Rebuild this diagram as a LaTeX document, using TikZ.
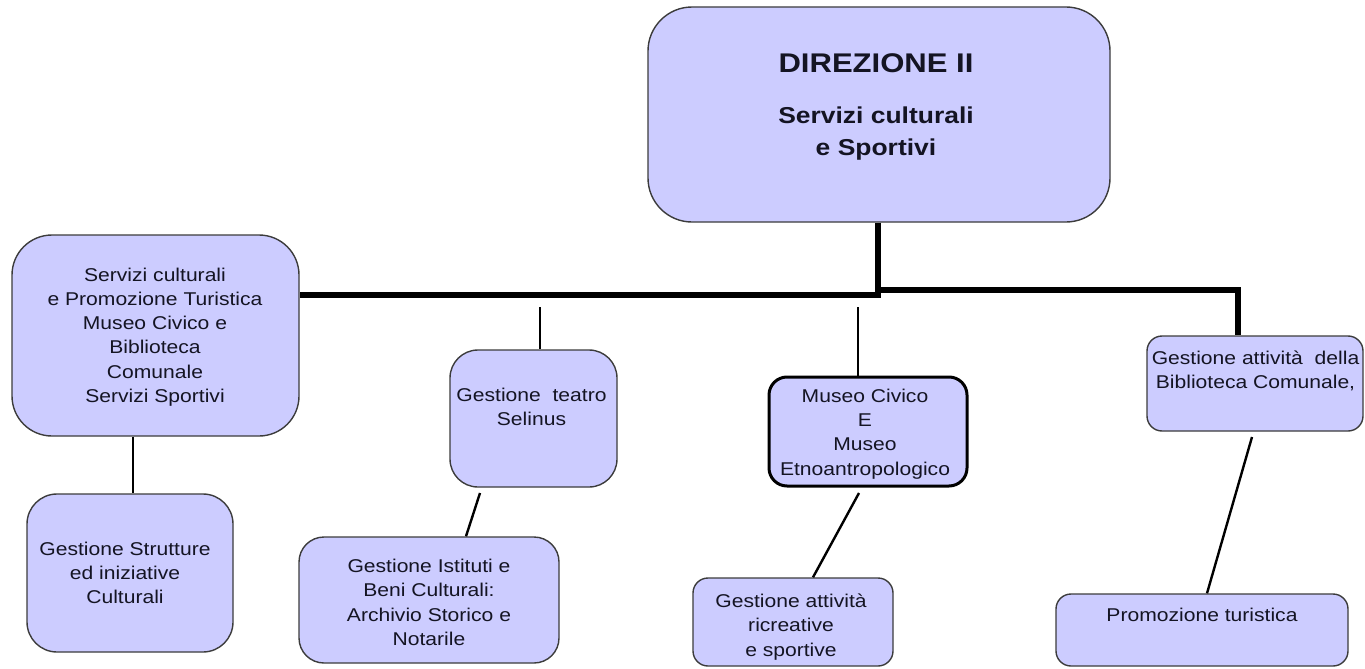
\documentclass[tikz,border=0pt]{standalone}
\usepackage{fontspec}
\setmainfont{Liberation Sans}
\newfontfamily\smallf[FakeStretch=1.14]{Liberation Sans}
\newfontfamily\bigf[FakeStretch=1.15]{Liberation Sans}
\definecolor{boxfill}{RGB}{204,204,255}
\definecolor{boxline}{RGB}{60,60,60}
\definecolor{txt}{RGB}{20,20,35}
\tikzset{
  orgbox/.style={draw=boxline, line width=1.4pt, fill=boxfill, rectangle, inner sep=0pt},
  lbl/.style={align=center, inner sep=0pt, text=txt, font=\smallf\fontsize{18.5}{24.3}\selectfont},
  thickc/.style={line width=6pt, line join=miter, black},
  thinc/.style={line width=2.4pt, black}
}
\begin{document}
\begin{tikzpicture}[x=1pt,y=-1pt]
\useasboundingbox (0,0) rectangle (1365,669);
% boxes
\node[orgbox, rounded corners=44pt, minimum width=462pt, minimum height=215pt] (top) at (879,114.5) {};
\node[orgbox, rounded corners=40pt, minimum width=287pt, minimum height=201pt] (L1) at (155.5,335.5) {};
\node[orgbox, rounded corners=30pt, minimum width=206pt, minimum height=158pt] (L1c) at (130,573) {};
\node[orgbox, rounded corners=28pt, minimum width=167pt, minimum height=137pt] (T) at (533.5,418.5) {};
\node[orgbox, rounded corners=25pt, minimum width=260pt, minimum height=126pt] (Tc) at (429,600) {};
\node[orgbox, draw=black, line width=3pt, rounded corners=18pt, minimum width=198pt, minimum height=109pt] (M) at (868,431.5) {};
\node[orgbox, rounded corners=15pt, minimum width=200pt, minimum height=88pt] (Mc) at (793,622) {};
\node[orgbox, rounded corners=15pt, minimum width=216pt, minimum height=95pt] (B) at (1255,383.5) {};
\node[orgbox, rounded corners=15pt, minimum width=292pt, minimum height=72pt] (Bc) at (1202,630) {};
% texts
\node[inner sep=0pt, text=txt, font=\bigf\bfseries\fontsize{27}{30}\selectfont] (tTitle) at (876,63) {DIREZIONE II};
\node[align=center, inner sep=0pt, text=txt, font=\bigf\bfseries\fontsize{23}{32}\selectfont] (tSub) at (876,134) {Servizi culturali\\e Sportivi};
\node[lbl] (tL1) at (155,337) {Servizi culturali\\e Promozione Turistica\\Museo Civico e\\Biblioteca\\Comunale\\Servizi Sportivi};
\node[lbl] (tL1c) at (125,573) {Gestione Strutture\\ed iniziative\\Culturali};
\node[lbl] (tT) at (531.5,407) {Gestione\ \ teatro\\Selinus};
\node[lbl] (tTc) at (429,602.5) {Gestione Istituti e\\Beni Culturali:\\Archivio Storico e\\Notarile};
\node[lbl] (tM) at (865,434) {Museo Civico\\E\\Museo\\Etnoantropologico};
\node[lbl] (tMc) at (791,627) {Gestione attività\\ricreative\\e sportive};
\node[lbl] (tB) at (1255.5,371) {Gestione attività\ \ della\\Biblioteca Comunale,};
\node[lbl] (tBc) at (1202,615) {Promozione turistica};
% junction coordinates
\coordinate (jL) at (878,298);
\coordinate (jR) at (878,290);
\coordinate (jB) at (1238,290);
\coordinate (cT) at (540,307);
\coordinate (cM) at (858,307);
\coordinate (cL) at (133,0);
\coordinate (dT1) at (480,493);
\coordinate (dT2) at (466,0);
\coordinate (dM1) at (859,493);
\coordinate (dM2) at (813,0);
\coordinate (dB1) at (1252,437);
\coordinate (dB2) at (1207,0);
% thick connectors
\draw[thickc] (top.south -| jL) -- ([yshift=3pt]jL) -- ([yshift=3pt]jL -| L1.east);
\draw[thickc] ([xshift=-3pt]jR) -- (jB) -- (jB |- B.north);
% thin connectors
\draw[thinc] (cT) -- (cT |- T.north);
\draw[thinc] (cM) -- (cM |- M.north);
\draw[thinc] (L1.south -| cL) -- (L1c.north -| cL);
\draw[thinc] (dT1) -- (dT2 |- Tc.north);
\draw[thinc] (dM1) -- (dM2 |- Mc.north);
\draw[thinc] (dB1) -- (dB2 |- Bc.north);
\end{tikzpicture}
\end{document}
